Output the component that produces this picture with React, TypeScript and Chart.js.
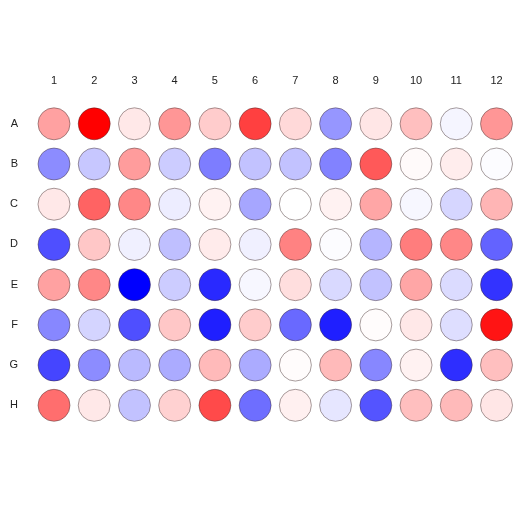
import React, { useEffect, useRef } from "react";
import { Chart, registerables } from "chart.js";

Chart.register(...registerables);

const colLabels = ["1", "2", "3", "4", "5", "6", "7", "8", "9", "10", "11", "12"];
const rowLabels = ["A", "B", "C", "D", "E", "F", "G", "H"];

const rowA = [0.37, 1.0, 0.09, 0.41, 0.2, 0.75, 0.15, -0.41, 0.1, 0.25, -0.04, 0.41];
const rowB = [-0.45, -0.22, 0.39, -0.2, -0.51, -0.24, -0.24, -0.49, 0.65, 0.02, 0.07, -0.01];
const rowC = [0.09, 0.61, 0.47, -0.07, 0.05, -0.35, 0.0, 0.05, 0.35, -0.03, -0.16, 0.29];
const rowD = [-0.69, 0.22, -0.06, -0.25, 0.08, -0.06, 0.49, -0.01, -0.29, 0.51, 0.47, -0.61];
const rowE = [0.37, 0.47, -1.0, -0.2, -0.84, -0.03, 0.13, -0.15, -0.24, 0.35, -0.14, -0.8];
const rowF = [-0.47, -0.17, -0.69, 0.22, -0.88, 0.2, -0.59, -0.88, 0.01, 0.09, -0.13, 0.92];
const rowG = [-0.73, -0.45, -0.27, -0.33, 0.27, -0.33, 0.01, 0.27, -0.47, 0.05, -0.82, 0.25];
const rowH = [0.57, 0.09, -0.24, 0.18, 0.71, -0.57, 0.06, -0.1, -0.67, 0.25, 0.27, 0.1];

const rows = [rowA, rowB, rowC, rowD, rowE, rowF, rowG, rowH];

function colorFor(v: number): string {
  if (v >= 0) {
    const c = Math.round(255 * (1 - v));
    return `rgb(255,${c},${c})`;
  }
  const c = Math.round(255 * (1 + v));
  return `rgb(${c},${c},255)`;
}

export default function App() {
  const ref = useRef<HTMLCanvasElement | null>(null);
  useEffect(() => {
    if (!ref.current) return;
    const points: { x: number; y: number; v: number }[] = [];
    rows.forEach((r, ri) => {
      r.forEach((v, ci) => points.push({ x: ci + 1, y: ri + 1, v }));
    });
    const chart = new Chart(ref.current, {
      type: "scatter",
      data: {
        datasets: [
          {
            data: points as any,
            backgroundColor: points.map((p) => colorFor(p.v)),
            borderColor: "rgba(60,40,40,0.45)",
            borderWidth: 1,
            pointRadius: 16,
            pointHoverRadius: 16,
            clip: false as any,
          },
        ],
      },
      options: {
        animation: false,
        responsive: false,
        maintainAspectRatio: false,
        layout: { padding: { left: 0, top: 0, right: 17.5, bottom: 108.7 } },
        plugins: { legend: { display: false }, tooltip: { enabled: false } },
        scales: {
          x: {
            type: "linear",
            position: "top",
            min: 1,
            max: 12,
            bounds: "data",
            grid: { display: false, drawTicks: false },
            border: { display: false },
            afterFit: (s: any) => {
              s.height = 123.8;
              s.paddingLeft = 0;
              s.paddingRight = 0;
            },
            ticks: {
              stepSize: 1,
              autoSkip: false,
              maxRotation: 0,
              padding: 36,
              color: "#222",
              font: { family: "Liberation Sans", size: 11 },
              callback: (v: any) => colLabels[Number(v) - 1] ?? "",
            },
          },
          y: {
            type: "linear",
            reverse: true,
            min: 1,
            max: 8,
            bounds: "data",
            grid: { display: false, drawTicks: false },
            border: { display: false },
            afterFit: (s: any) => {
              s.width = 54;
            },
            ticks: {
              stepSize: 1,
              autoSkip: false,
              padding: 36,
              color: "#222",
              font: { family: "Liberation Sans", size: 11 },
              callback: (v: any) => rowLabels[Number(v) - 1] ?? "",
            },
          },
        },
      },
    });
    return () => chart.destroy();
  }, []);
  return (
    <div style={{ position: "absolute", left: 0, top: 0, width: 514, height: 514, background: "#fff" }}>
      <canvas ref={ref} width={514} height={514} style={{ width: 514, height: 514 }} />
    </div>
  );
}
